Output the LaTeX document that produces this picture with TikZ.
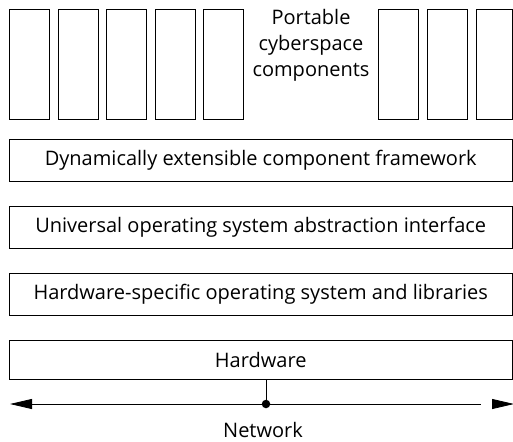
\documentclass[tikz,border=0pt]{standalone}
\usepackage{fontspec}
\setmainfont{Open Sans}
\usetikzlibrary{arrows.meta}
\tikzset{
  comp/.style={draw, line width=0.8pt, minimum width=40pt, minimum height=110pt, inner sep=0pt},
  layer/.style={draw, line width=0.8pt, minimum width=503.5pt, inner sep=0pt, font=\fontsize{20}{24}\selectfont},
  lbl/.style={inner sep=0pt, font=\fontsize{20}{24}\selectfont},
  net/.style={line width=0.8pt},
  tip/.style={-{Triangle[length=22pt,width=10pt]}},
}
\begin{document}
\begin{tikzpicture}[x=1pt,y=-1pt]
\useasboundingbox (0,0) rectangle (513,441);
% component columns
\node[comp] (c1) at (29,64) {};
\node[comp] (c2) at (78,64) {};
\node[comp] (c3) at (126,64) {};
\node[comp] (c4) at (175,64) {};
\node[comp] (c5) at (223,64) {};
\node[comp] (c6) at (398,64) {};
\node[comp] (c7) at (447,64) {};
\node[comp, minimum width=36.5pt] (c8) at (494.25,64) {};
\node[lbl, align=center, font=\fontsize{20}{26}\selectfont] (port) at (311,45) {Portable\\cyberspace\\components};
% layers
\node[layer, minimum height=42pt] (l1) at (260.75,160) {Dynamically extensible component framework};
\node[layer, minimum height=42pt] (l2) at (260.75,227) {Universal operating system abstraction interface};
\node[layer, minimum height=42pt] (l3) at (260.75,294) {Hardware-specific operating system and libraries};
\node[layer, minimum height=39pt] (hw) at (260.75,359.5) {Hardware};
% network
\node[circle, fill, inner sep=0pt, minimum size=8.5pt] (dot) at (266,404) {};
\coordinate (netL) at (10,404);
\coordinate (netR) at (514,404);
\coordinate (lineR) at (481,404);
\coordinate (tipR) at (492,404);
\draw[net] (hw.south -| dot) -- (dot);
\draw[net, tip] (dot) -- (netL);
\draw[net] (dot) -- (lineR);
\draw[net, tip] (tipR) -- (netR);
\node[lbl] (netlbl) at (263,430) {Network};
\end{tikzpicture}
\end{document}
